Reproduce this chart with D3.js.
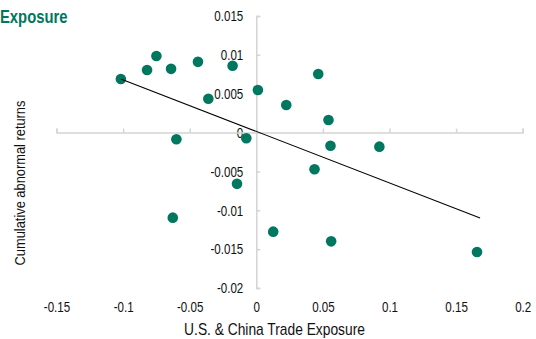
<!DOCTYPE html>
<html><head><meta charset="utf-8">
<script src="https://cdn.jsdelivr.net/npm/d3@7"></script>
<style>
html,body{margin:0;padding:0;background:#fff;}
svg{display:block;}
text{font-family:"Liberation Sans",Arial,sans-serif;}
</style></head>
<body>
<svg id="chart" width="536" height="339"></svg>
<script>
const exposure = [-0.1017,-0.075,-0.082,-0.064,-0.0438,-0.0178,-0.036,0.0012,0.0225,0.0465,0.0542,0.0557,0.0924,-0.060,-0.0075,0.0437,-0.0145,-0.0627,0.0127,0.0562,0.1657];
const car = [0.0069,0.00985,0.00806,0.0082,0.0091,0.0086,0.00436,0.00548,0.00355,0.00754,0.00162,-0.00169,-0.00181,-0.00086,-0.00073,-0.00472,-0.0066,-0.01095,-0.01275,-0.0140,-0.01537];
const trendX = [-0.1017, 0.168];
const trendY = [0.0069, -0.0110];
const xTicks = [-0.15,-0.1,-0.05,0,0.05,0.1,0.15,0.2];
const xTickLabels = ["-0.15","-0.1","-0.05","0","0.05","0.1","0.15","0.2"];
const yTicks = [0.015,0.01,0.005,0,-0.005,-0.01,-0.015,-0.02];
const yTickLabels = ["0.015","0.01","0.005","0","-0.005","-0.01","-0.015","-0.02"];
const titleText = "Exposure";
const xLabel = "U.S. & China Trade Exposure";
const yLabel = "Cumulative abnormal returns";

const teal = "#00775f";
const axisCol = "#d4d4d4";
const svg = d3.select("#chart");
const x = d3.scaleLinear().domain([-0.15,0.2]).range([56.5,522.7]);
const y = d3.scaleLinear().domain([-0.02,0.015]).range([288,16]);

// horizontal squeeze factor so a sample string reaches a target width
function squeeze(fontSize, weight, sample, target){
  const t = svg.append("text").attr("font-size",fontSize).attr("font-weight",weight).text(sample);
  const w = t.node().getComputedTextLength();
  t.remove();
  return Math.min(1, target / w);
}
const tickK = squeeze(15, "normal", "0.015", 29);
const titleK = squeeze(18, "bold", titleText, 67.5);
const xLabK = squeeze(16, "normal", xLabel, 181);
const yLabK = squeeze(14.5, "normal", yLabel, 165);

// title
svg.append("text").attr("transform",`translate(0,22.5) scale(${titleK},1)`)
  .attr("fill",teal).attr("font-weight","bold").attr("font-size",18)
  .text(titleText);

// y axis (at x=0)
const yAxis = d3.axisLeft(y).tickValues(yTicks)
  .tickFormat((d,i)=>yTickLabels[i]).tickSizeInner(-4).tickSizeOuter(-4).tickPadding(13);
const gy = svg.append("g").attr("transform",`translate(${x(0)},0)`).call(yAxis);
gy.selectAll("path,line").attr("stroke",axisCol).attr("stroke-width",1.5);
gy.selectAll("text").attr("font-size",15).attr("fill","#111")
  .attr("x",-13/tickK).attr("transform",`scale(${tickK},1)`);

// x axis line at y=0
const xAxis = d3.axisBottom(x).tickValues(xTicks).tickFormat("").tickSizeInner(-4).tickSizeOuter(-4);
const gx = svg.append("g").attr("transform",`translate(0,${y(0)})`).call(xAxis);
gx.selectAll("path,line").attr("stroke",axisCol).attr("stroke-width",1.5);

// x tick labels at bottom
const xLab = d3.axisBottom(x).tickValues(xTicks).tickFormat((d,i)=>xTickLabels[i]).tickSize(0).tickPadding(0);
const gxl = svg.append("g").attr("transform",`translate(0,301)`).call(xLab);
gxl.select(".domain").remove();
gxl.selectAll("text").attr("font-size",15).attr("fill","#111")
  .attr("transform",`scale(${tickK},1)`);

// axis titles
svg.append("text").attr("transform",`translate(274.5,334.5) scale(${xLabK},1)`).attr("text-anchor","middle")
  .attr("font-size",16).attr("fill","#111").text(xLabel);
svg.append("text").attr("transform",`translate(25,183) rotate(-90) scale(${yLabK},1)`).attr("text-anchor","middle")
  .attr("font-size",14.5).attr("fill","#111").text(yLabel);

// points
svg.append("g").selectAll("circle").data(exposure.map((v,i)=>[v,car[i]])).join("circle")
  .attr("cx",d=>x(d[0])).attr("cy",d=>y(d[1])).attr("r",5.3).attr("fill",teal);

// trend line
svg.append("line").attr("x1",x(trendX[0])).attr("y1",y(trendY[0]))
  .attr("x2",x(trendX[1])).attr("y2",y(trendY[1]))
  .attr("stroke","#000").attr("stroke-width",1.1);
</script>
</body></html>
